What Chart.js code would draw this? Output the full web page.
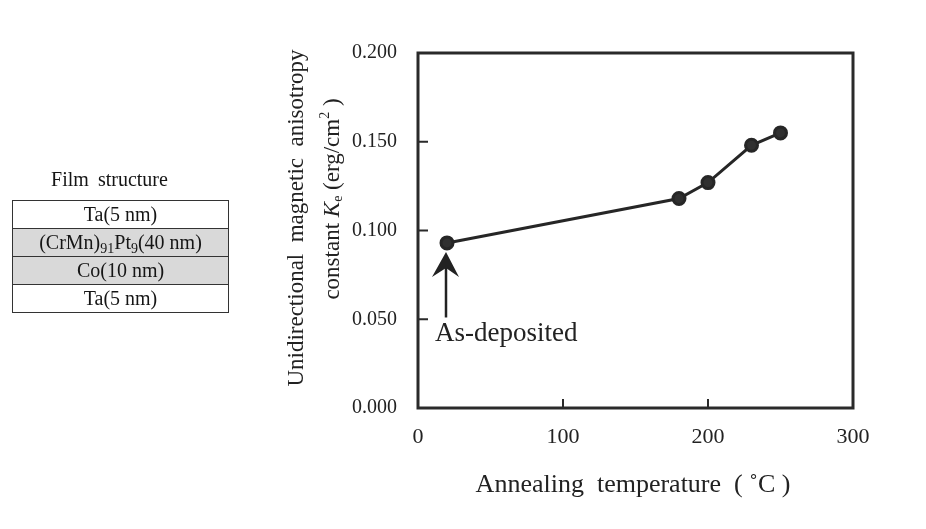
<!DOCTYPE html>
<html>
<head>
<meta charset="utf-8">
<script src="https://cdn.jsdelivr.net/npm/chart.js@4.4.1/dist/chart.umd.min.js"></script>
<style>
html, body { margin: 0; padding: 0; background: #fff; }
#wrap { position: relative; width: 926px; height: 529px; overflow: hidden; }
#chart { position: absolute; left: 0; top: 0; }
#film { position: absolute; left: 12px; top: 168px; width: 217px; font-family: "Liberation Serif", serif; color: #151515; }
#film .cap { text-align: center; font-size: 20px; margin: 0 0 9px -22px; word-spacing: 4px; }
#film table { border-collapse: collapse; width: 217px; }
#film td { border: 1px solid #333; height: 27px; padding: 0; text-align: center; font-size: 20px; line-height: 27px; }
#film td.g { background: #d9d9d9; }
#film sub { font-size: 14px; vertical-align: -4px; line-height: 0; }
</style>
</head>
<body>
<div id="wrap">
	<canvas id="chart" width="926" height="529"></canvas>
	<div id="film">
		<div class="cap">Film structure</div>
		<table>
			<tr><td>Ta(5 nm)</td></tr>
			<tr><td class="g">(CrMn)<sub>91</sub>Pt<sub>9</sub>(40 nm)</td></tr>
			<tr><td class="g">Co(10 nm)</td></tr>
			<tr><td>Ta(5 nm)</td></tr>
		</table>
	</div>
</div>
<script>
// annealing temperature (°C) and Ke (erg/cm2)
const temps = [20, 180, 200, 230, 250];
const ke = [0.093, 0.118, 0.127, 0.148, 0.155];
const xTicks = [0, 100, 200, 300];
const yTicks = [0, 0.05, 0.1, 0.15, 0.2];

const serif = '"Liberation Serif", "Times New Roman", serif';
const ink = '#222';

// box + short inward tick marks
const frame = {
	id: 'frame',
	beforeDatasetsDraw(chart) {
		const {ctx, chartArea: a, scales: {x, y}} = chart;
		ctx.save();
		ctx.strokeStyle = '#2a2a2a';
		ctx.lineWidth = 3;
		ctx.strokeRect(a.left, a.top, a.right - a.left, a.bottom - a.top);
		ctx.lineWidth = 2;
		ctx.beginPath();
		yTicks.forEach(v => {
			if (v <= y.min || v >= y.max) return;
			const py = y.getPixelForValue(v);
			ctx.moveTo(a.left, py);
			ctx.lineTo(a.left + 10, py);
		});
		xTicks.forEach(v => {
			if (v <= x.min || v >= x.max) return;
			const px = x.getPixelForValue(v);
			ctx.moveTo(px, a.bottom);
			ctx.lineTo(px, a.bottom - 9);
		});
		ctx.stroke();
		ctx.restore();
	}
};

function drawRuns(ctx, runs, cx, cy) {
	let total = 0;
	runs.forEach(r => { ctx.font = r.f; r.w = ctx.measureText(r.t).width; total += r.w; });
	let px = cx - total / 2;
	runs.forEach(r => {
		ctx.font = r.f;
		ctx.fillText(r.t, px, cy + (r.dy || 0));
		px += r.w;
	});
}

// axis titles and the as-deposited arrow
const notes = {
	id: 'notes',
	afterDraw(chart) {
		const {ctx, chartArea: a, scales: {x, y}} = chart;
		ctx.save();
		ctx.fillStyle = ink;
		ctx.textBaseline = 'middle';
		ctx.textAlign = 'left';

		// x title
		drawRuns(ctx, [
			{t: 'Annealing  temperature  ', f: '26px ' + serif},
			{t: '( \u02DAC )', f: '26px ' + serif}
		], 633, 485);

		// y title, two rotated lines
		ctx.save();
		ctx.translate(297, 218);
		ctx.rotate(-Math.PI / 2);
		drawRuns(ctx, [{t: 'Unidirectional  magnetic  anisotropy', f: '23px ' + serif}], 0, 0);
		ctx.restore();
		ctx.save();
		ctx.translate(333, 199);
		ctx.rotate(-Math.PI / 2);
		drawRuns(ctx, [
			{t: 'constant ', f: '23px ' + serif},
			{t: 'K', f: 'italic 23px ' + serif},
			{t: 'e', f: '14px ' + serif, dy: 5},
			{t: ' (erg/cm', f: '23px ' + serif},
			{t: '2', f: '14px ' + serif, dy: -8},
			{t: ' )', f: '23px ' + serif}
		], 0, 0);
		ctx.restore();

		// arrow to first point
		const px = x.getPixelForValue(temps[0]) - 1;
		const tip = y.getPixelForValue(ke[0]) + 9;
		const tail = y.getPixelForValue(0.051);
		ctx.strokeStyle = ink;
		ctx.lineWidth = 2.5;
		ctx.beginPath();
		ctx.moveTo(px, tail);
		ctx.lineTo(px, tip + 14);
		ctx.stroke();
		ctx.beginPath();
		ctx.moveTo(px, tip);
		ctx.lineTo(px + 13, tip + 25);
		ctx.lineTo(px, tip + 16);
		ctx.lineTo(px - 14, tip + 25);
		ctx.closePath();
		ctx.fill();

		ctx.font = '27px ' + serif;
		ctx.fillText('As-deposited', px - 11, y.getPixelForValue(0.042));
		ctx.restore();
	}
};

new Chart(document.getElementById('chart'), {
	type: 'scatter',
	data: {
		datasets: [{
			data: temps.map((t, i) => ({x: t, y: ke[i]})),
			showLine: true,
			borderColor: '#262626',
			borderWidth: 3,
			backgroundColor: '#303030',
			pointBackgroundColor: '#303030',
			pointBorderColor: '#262626',
			pointRadius: 6,
		}]
	},
	options: {
		responsive: false,
		animation: false,
		layout: { padding: { top: 53, right: 73, bottom: 0, left: 0 } },
		plugins: { legend: { display: false }, tooltip: { enabled: false } },
		scales: {
			x: {
				type: 'linear',
				min: 0,
				max: 300,
				afterFit: s => { s.height = 121; },
				afterBuildTicks: s => { s.ticks = xTicks.map(v => ({value: v})); },
				grid: { display: false },
				border: { display: false },
				ticks: { padding: 8, color: ink, font: { family: serif, size: 22 } }
			},
			y: {
				min: 0,
				max: 0.2,
				afterFit: s => { s.width = 418; },
				afterBuildTicks: s => { s.ticks = yTicks.map(v => ({value: v})); },
				grid: { display: false },
				border: { display: false },
				ticks: {
					padding: 13,
					color: ink,
					font: { family: serif, size: 20 },
					callback: v => v.toFixed(3)
				}
			}
		}
	},
	plugins: [frame, notes]
});
</script>
</body>
</html>
